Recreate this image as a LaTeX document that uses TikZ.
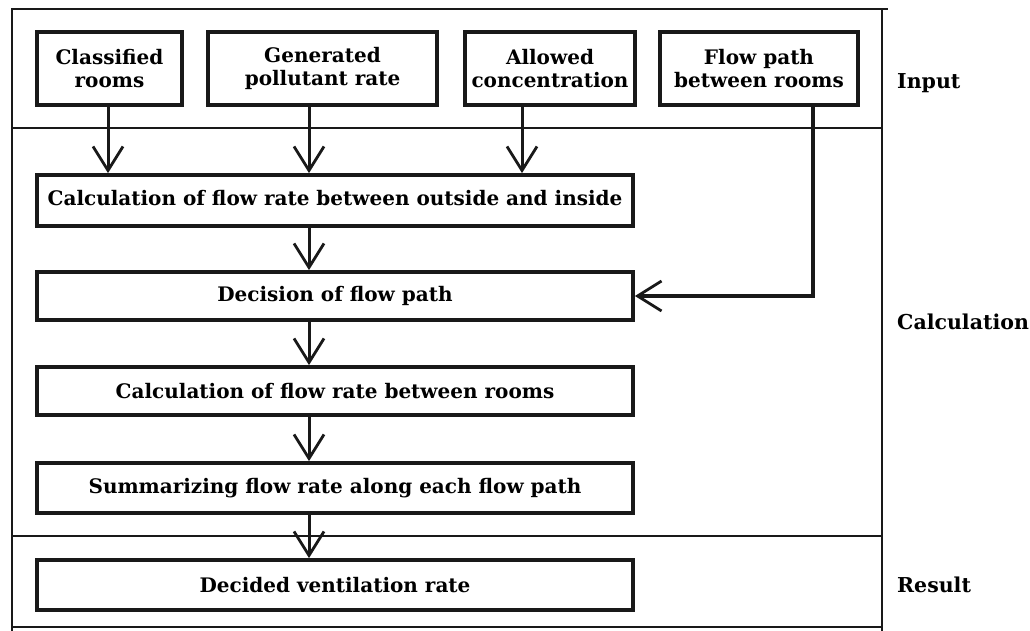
\documentclass[tikz,border=0pt]{standalone}
\usepackage{fontspec}
\setmainfont{DejaVu Serif}
\usetikzlibrary{arrows.meta}
\begin{document}
\begin{tikzpicture}[x=1pt,y=-1pt,
  stepbox/.style={draw=black!90, line width=3.8pt, inner sep=0pt, align=center,
    font=\fontsize{20}{23}\selectfont\bfseries},
  arr/.style={draw=black!90, line width=3pt, -{Straight Barb[length=24pt,width=30pt,line width=2.8pt]}},
  frame/.style={draw=black!90, line width=1.8pt},
  lab/.style={anchor=west, inner sep=0pt, font=\fontsize{20.5}{23}\selectfont\bfseries}]
\useasboundingbox (0,0) rectangle (1030,631);
% frame
\draw[frame] (12,631) -- (12,9) -- (888,9);
\draw[frame] (882,9) -- (882,631);
\draw[frame] (12,128) -- (882,128);
\draw[frame] (12,536) -- (882,536);
\draw[frame] (12,627) -- (882,627);
% input boxes
\node[stepbox, minimum width=145pt, minimum height=73pt] (cr) at (109.5,68.5) {Classified\\rooms};
\node[stepbox, minimum width=229pt, minimum height=73pt] (gp) at (322.5,68.5) {Generated\\pollutant rate};
\node[stepbox, minimum width=170pt, minimum height=73pt] (ac) at (550,68.5) {Allowed\\concentration};
\node[stepbox, minimum width=198pt, minimum height=73pt] (fp) at (759,68.5) {Flow path\\between rooms};
% process boxes
\node[stepbox, minimum width=596pt, minimum height=51pt] (c1) at (335,200.5) {\raisebox{5pt}{Calculation of flow rate between outside and inside}};
\node[stepbox, minimum width=596pt, minimum height=48pt] (dec) at (335,296) {\raisebox{3pt}{Decision of flow path}};
\node[stepbox, minimum width=596pt, minimum height=48pt] (c2) at (335,391) {Calculation of flow rate between rooms};
\node[stepbox, minimum width=596pt, minimum height=50pt] (sm) at (335,488) {Summarizing flow rate along each flow path};
\node[stepbox, minimum width=596pt, minimum height=50pt] (dv) at (335,585) {Decided ventilation rate};
% labels
\node[lab] (lin) at (897,83) {Input};
\node[lab] (lcalc) at (897,322) {Calculation};
\node[lab] (lres) at (897,585) {Result};
% connectors
\coordinate (a1) at (108,105);
\coordinate (a2) at (309,105);
\coordinate (a3) at (522,105);
\coordinate (a4) at (813,105);
\draw[arr] (a1) -- (a1 |- c1.north);
\draw[arr] (a2) -- (a2 |- c1.north);
\draw[arr] (a3) -- (a3 |- c1.north);
\draw[arr, line width=3.8pt] (a4) |- (dec.east);
\coordinate (b1) at (309,226);
\draw[arr] (b1) -- (b1 |- dec.north);
\draw[arr] (b1 |- dec.south) -- (b1 |- c2.north);
\draw[arr] (b1 |- c2.south) -- (b1 |- sm.north);
\draw[arr] (b1 |- sm.south) -- (b1 |- dv.north);
\end{tikzpicture}
\end{document}
